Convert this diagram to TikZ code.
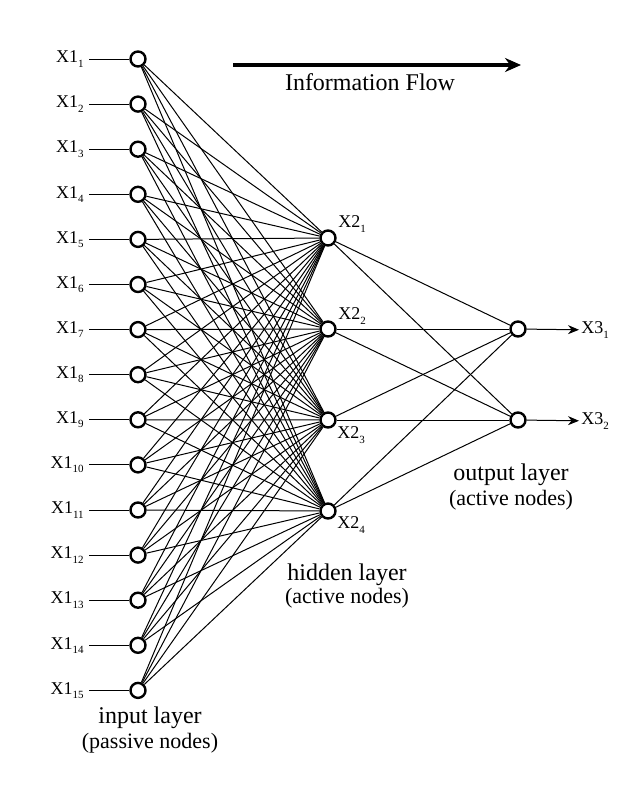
\documentclass[tikz,border=0pt]{standalone}
\usepackage{fontspec}
\setmainfont{Liberation Serif}
\usetikzlibrary{arrows.meta,positioning}
\newcommand{\lsub}[1]{\raisebox{-2.2pt}{\fontsize{5.5}{6}\selectfont #1}}

\begin{document}
\begin{tikzpicture}[x=0.5pt, y=-0.5pt,
    neuron/.style={circle, draw, line width=1.2pt, minimum size=7.5pt, inner sep=0pt, fill=white},
    lab/.style={font=\fontsize{9}{10}\selectfont, inner sep=1pt},
    title/.style={font=\fontsize{12}{13}\selectfont, inner sep=0pt},
    note/.style={font=\fontsize{11}{12}\selectfont, inner sep=0pt},
    link/.style={line width=0.5pt},
    outarrow/.style={-{Stealth[length=5.5pt,width=4.5pt]}, line width=0.5pt},
    flow/.style={-{Stealth[length=8pt,width=7pt]}, line width=2pt}
]
\useasboundingbox (0,0) rectangle (624,787);

% Input layer
\foreach \i in {1,...,15} {
  \node[neuron] (in\i) at (138, {59+45.1*(\i-1)}) {};
  \node[lab, anchor=east] (xl\i) at (86, {59+45.1*(\i-1)}) {X1\lsub{\i}};
  \draw[link, shorten <=1.5pt] (xl\i) -- (in\i);
}

% Hidden layer
\foreach \j/\y in {1/238, 2/329, 3/420, 4/511}
  \node[neuron] (hid\j) at (328,\y) {};

% Output layer
\node[neuron] (out1) at (518,329) {};
\node[neuron] (out2) at (518,420) {};

% Connections
\foreach \i in {1,...,15}
  \foreach \j in {1,...,4}
    \draw[link] (in\i) -- (hid\j);
\foreach \j in {1,...,4}
  \foreach \k in {1,2}
    \draw[link] (hid\j) -- (out\k);

% Hidden labels
\node[lab, anchor=west] (xh1) at (336,224) {X2\lsub{1}};
\node[lab, anchor=west] (xh2) at (336,316) {X2\lsub{2}};
\node[lab, anchor=west] (xh3) at (335,435) {X2\lsub{3}};
\node[lab, anchor=west] (xh4) at (335,525) {X2\lsub{4}};

% Outputs
\node[lab, anchor=west] (xo1) at (579,330) {X3\lsub{1}};
\node[lab, anchor=west] (xo2) at (579,421) {X3\lsub{2}};
\draw[outarrow] (out1) -- (xo1);
\draw[outarrow] (out2) -- (xo2);

% Information flow
\coordinate (fa) at (233,65);
\coordinate (fb) at (521,65);
\draw[flow] (fa) -- (fb);
\node[title] (flowtxt) at (370,82) {Information Flow};

% Layer names
\node[title] (inlab) at (150,718) {input layer};
\node[note] (inlab2) at (150,743) {(passive nodes)};
\node[title] (hidlab) at (347,575) {hidden layer};
\node[note] (hidlab2) at (347,598) {(active nodes)};
\node[title] (outlab) at (511,475) {output layer};
\node[note] (outlab2) at (511,500) {(active nodes)};

\end{tikzpicture}
\end{document}
